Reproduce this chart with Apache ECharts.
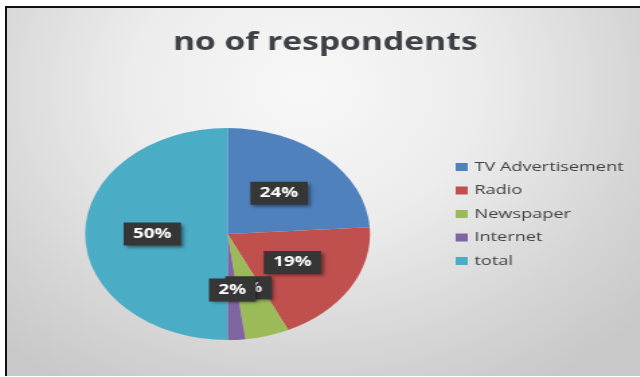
<!DOCTYPE html>
<html>
<head>
<meta charset="utf-8">
<script src="https://cdn.jsdelivr.net/npm/echarts@6/dist/echarts.min.js"></script>
<style>
  html, body { margin: 0; padding: 0; background: #ffffff; }
  body { width: 640px; height: 377px; position: relative; overflow: hidden; }
  #frame {
    position: absolute; left: 5px; top: 6px; width: 635px; height: 368px;
    border-left: 2px solid #111; border-top: 2px solid #111;
    background: radial-gradient(ellipse 70% 95% at 47% 22%, #f8f8f8 0%, #ececec 40%, #d6d6d6 75%, #c8c8c8 100%);
  }
  /* chart is laid out narrow and stretched wide, giving the oval pie */
  #chart {
    position: absolute; left: 0; top: 0; width: 476px; height: 377px;
    transform: scaleX(1.344); transform-origin: 0 0;
  }
</style>
</head>
<body>
<div id="frame"></div>
<div id="chart"></div>
<script>
// respondents per medium (the "total" row is included as its own slice)
const categories = ['TV Advertisement', 'Radio', 'Newspaper', 'Internet', 'total'];
const respondents = [48, 38, 10, 4, 100];
const sliceColors = ['#4f81bd', '#c0504d', '#9bbb59', '#8064a2', '#4bacc6'];
const chartTitle = 'no of respondents';

const chart = echarts.init(document.getElementById('chart'), null, { renderer: 'canvas' });

chart.setOption({
  backgroundColor: 'transparent',
  animation: false,
  title: {
    text: chartTitle,
    left: 237,
    top: 25,
    textAlign: 'center',
    textStyle: {
      fontFamily: 'Open Sans',
      fontWeight: 'bold',
      fontSize: 25,
      color: '#3f4046'
    }
  },
  legend: {
    orient: 'vertical',
    left: 334,
    top: 155,
    itemWidth: 9,
    itemHeight: 8,
    itemGap: 9.5,
    icon: 'rect',
    data: categories,
    textStyle: {
      fontFamily: 'Open Sans',
      fontSize: 13.5,
      lineHeight: 14,
      color: '#404040'
    }
  },
  series: [{
    type: 'pie',
    center: [169.3, 234],
    radius: 106,
    startAngle: 90,
    clockwise: true,
    percentPrecision: 0,
    avoidLabelOverlap: false,
    minShowLabelAngle: 0,
    emphasis: { disabled: true },
    itemStyle: { borderWidth: 0 },
    labelLayout: { hideOverlap: false },
    label: {
      show: true,
      position: 'inside',
      overflow: 'none',
      formatter: p => Math.round(p.percent) + '%',
      fontFamily: 'Open Sans',
      fontWeight: 'bold',
      fontSize: 14,
      lineHeight: 14,
      color: '#ffffff',
      textBorderWidth: 0,
      backgroundColor: '#363636',
      padding: [5, 7, 4, 7],
      shadowColor: 'rgba(0,0,0,0.45)',
      shadowBlur: 3,
      shadowOffsetX: 2,
      shadowOffsetY: 2
    },
    labelLine: { show: false },
    data: categories.map((name, i) => ({
      name: name,
      value: respondents[i],
      itemStyle: { color: sliceColors[i] }
    }))
  }]
});
</script>
</body>
</html>
